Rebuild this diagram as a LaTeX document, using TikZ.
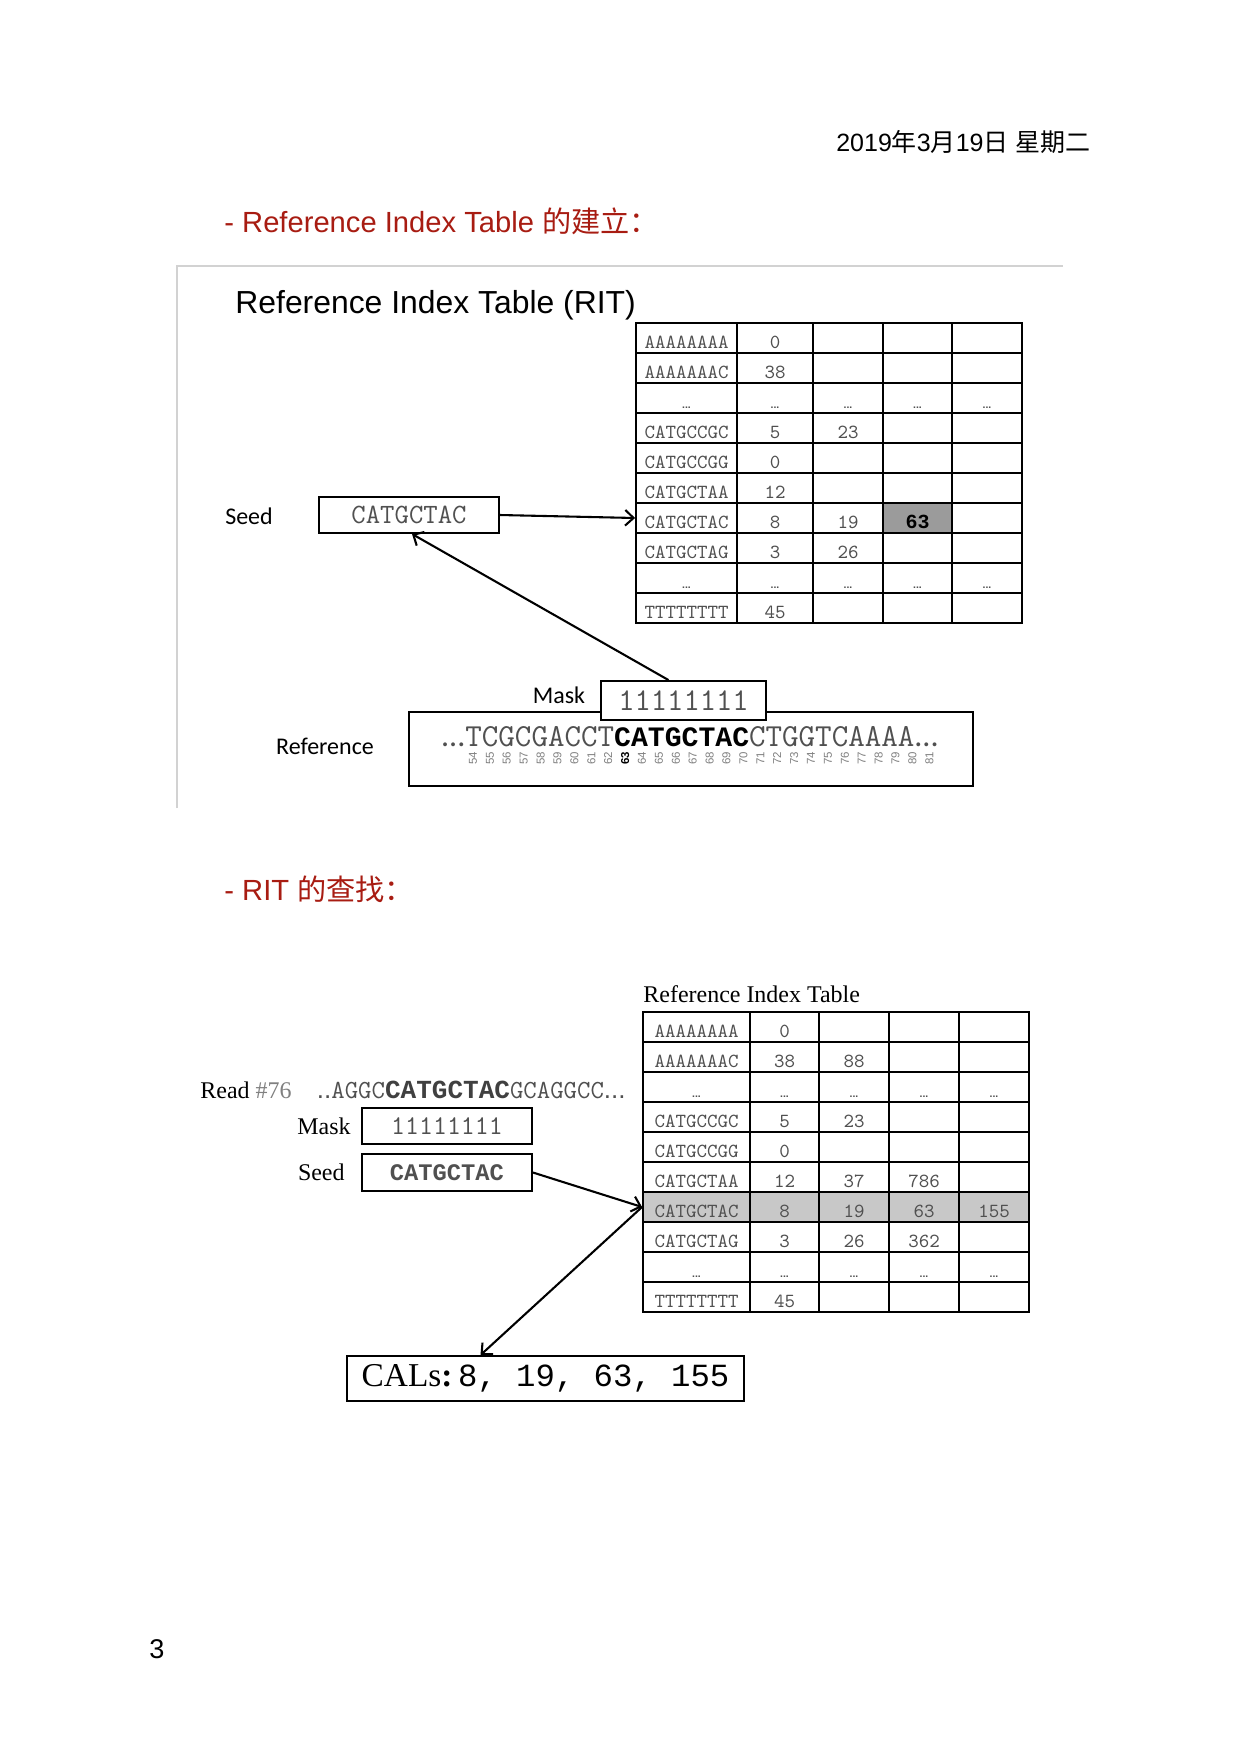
\documentclass[tikz,border=0pt]{standalone}
\usepackage{fontspec}
\setmainfont{Liberation Serif}
\setsansfont{Liberation Sans}
\newfontfamily\cjk{Noto Sans CJK SC}
\newfontfamily\calib{Carlito}
\newfontfamily\cmono{Liberation Mono}
\usetikzlibrary{calc,arrows.meta}

\definecolor{headred}{RGB}{168,28,18}
\definecolor{txtgray}{RGB}{80,80,80}
\definecolor{rowgray}{RGB}{200,200,200}
\definecolor{hitgray}{RGB}{155,155,155}
\definecolor{framegray}{RGB}{210,210,210}

\newcommand\pxu{0.48pt}
\newcommand\celldots{{\sffamily\bfseries\fontsize{5}{6}\selectfont...}}

\tikzset{
  cell/.style={draw, line width=0.9pt, inner sep=0pt, minimum height=30*\pxu,
    text height=9.6pt, text depth=0pt, text=txtgray,
    font=\ttfamily\fontsize{9.6}{10}\selectfont},
  box/.style={draw, line width=0.9pt, inner sep=0pt, fill=white},
  sans lbl/.style={font=\calib\fontsize{11.5}{13}\selectfont},
  serif lbl/.style={inner sep=0pt, font=\rmfamily\fontsize{11.5}{13}\selectfont},
  heading/.style={anchor=west, inner sep=0pt, text=headred, font=\sffamily\fontsize{14}{16}\selectfont},
  posnum/.style={rotate=90, inner sep=0pt, text=gray, font=\sffamily\fontsize{5.5}{6}\selectfont},
  link/.style={-{Straight Barb[length=4pt,width=7.5pt]}, line width=1pt},
}

\begin{document}
\begin{tikzpicture}[x=\pxu,y=-\pxu]
\path[fill=white, use as bounding box] (0,0) rectangle (1240,1753);

% page header
\node[anchor=east, inner sep=0pt, font=\sffamily\fontsize{12}{15}\selectfont] (date) at (1091,142)
  {2019{\cjk 年}3{\cjk 月}19{\cjk 日} {\cjk 星期二}};
\node[heading] (headA) at (224,221) {- Reference Index Table {\cjk 的建立：}};

% building the table
\draw[framegray, line width=0.7pt] (177,808) -- (177,266) -- (1063,266);
\node[anchor=west, inner sep=0pt, font=\sffamily\fontsize{15.3}{17}\selectfont] (titleA) at (235,305) {Reference Index Table (RIT)};
\fill[hitgray] (883,503) rectangle (952,533);
\foreach \ca/\cb/\cc/\cd/\ce [count=\i] in {
    AAAAAAAA/0/{}/{}/{},
    AAAAAAAC/38/{}/{}/{},
    \celldots/\celldots/\celldots/\celldots/\celldots,
    CATGCCGC/5/23/{}/{},
    CATGCCGG/0/{}/{}/{},
    CATGCTAA/12/{}/{}/{},
    CATGCTAC/8/19/{\cmono\bfseries\color{black}63}/{},
    CATGCTAG/3/26/{}/{},
    \celldots/\celldots/\celldots/\celldots/\celldots,
    TTTTTTTT/45/{}/{}/{}}{
  \foreach \t [count=\j] in {\ca,\cb,\cc,\cd,\ce}{
    \pgfmathsetmacro\xl{{636,737,813,883,952}[\j-1]}
    \pgfmathsetmacro\xr{{737,813,883,952,1022}[\j-1]}
    \node[cell, minimum width=(\xr-\xl)*\pxu] (ritA-\i-\j) at ({(\xl+\xr)/2},{308+30*\i}) {\t};
  }
}

\node[sans lbl] (seedlblA) at (249,516) {Seed};
\node[box, minimum width=180*\pxu, minimum height=36*\pxu, text=txtgray,
  font=\ttfamily\fontsize{13.4}{15}\selectfont] (seedA) at (409,515) {CATGCTAC};
\draw[link] (seedA.east) -- (ritA-7-1.west);

\node[box, minimum width=564*\pxu, minimum height=74*\pxu] (refA) at (691,749) {};
\node[sans lbl] (reflblA) at (325,746) {Reference};
\node[anchor=base west, inner sep=0pt, text=txtgray, font=\ttfamily\fontsize{15.4}{17}\selectfont] (seqA) at (465,746)
  {\llap{\calib...}TCGCGACCT{\color{black}\cmono\bfseries\fontsize{13.5}{17}\selectfont CATGCTAC}CTGGTCAAAA\rlap{\calib...}};
\foreach \n [count=\k from 0] in {54,...,81}
  \node[posnum] (posA\n) at (473+16.9*\k,758) {\ifnum\n=63 \bfseries\color{black}\fi\n};

\node[box, minimum width=165*\pxu, minimum height=39*\pxu, text=txtgray,
  font=\ttfamily\fontsize{15.2}{17}\selectfont] (maskA) at (683.5,700.5) {11111111};
\node[sans lbl] (masklblA) at (559,695) {Mask};
\draw[link] ($(maskA.north)+(-15,0)$) -- ($(seedA.south)+(3,0)$);

% looking up the table
\node[heading] (headB) at (224,889) {- RIT {\cjk 的查找：}};
\node[anchor=base west, serif lbl] (titleB) at (643,1002) {Reference Index Table};
\fill[rowgray] (643,1192) rectangle (1029,1222);
\foreach \ca/\cb/\cc/\cd/\ce [count=\i] in {
    AAAAAAAA/0/{}/{}/{},
    AAAAAAAC/38/88/{}/{},
    \celldots/\celldots/\celldots/\celldots/\celldots,
    CATGCCGC/5/23/{}/{},
    CATGCCGG/0/{}/{}/{},
    CATGCTAA/12/37/786/{},
    CATGCTAC/8/19/63/155,
    CATGCTAG/3/26/362/{},
    \celldots/\celldots/\celldots/\celldots/\celldots,
    TTTTTTTT/45/{}/{}/{}}{
  \foreach \t [count=\j] in {\ca,\cb,\cc,\cd,\ce}{
    \pgfmathsetmacro\xl{{643,750,819,889,959}[\j-1]}
    \pgfmathsetmacro\xr{{750,819,889,959,1029}[\j-1]}
    \node[cell, minimum width=(\xr-\xl)*\pxu] (ritB-\i-\j) at ({(\xl+\xr)/2},{997+30*\i}) {\t};
  }
}

\node[anchor=base west, serif lbl] (readlbl) at (200,1098) {Read {\color{gray}\#76}};
\node[anchor=base west, inner sep=0pt, text=txtgray, font=\ttfamily\fontsize{12.5}{15}\selectfont] (readseq) at (331,1098)
  {\llap{\sffamily..}AGGC{\color{black!75}\cmono\bfseries\fontsize{12.5}{15}\selectfont CATGCTAC}GCAGGCC\rlap{\sffamily...}};
\node[serif lbl, anchor=east] (masklblB) at (351,1126) {Mask};
\node[box, minimum width=170*\pxu, minimum height=36*\pxu, text=txtgray,
  font=\ttfamily\fontsize{13}{15}\selectfont] (maskB) at (447,1126) {11111111};
\node[serif lbl, anchor=east] (seedlblB) at (345,1172) {Seed};
\node[box, minimum width=170*\pxu, minimum height=37*\pxu, text=txtgray,
  font=\cmono\bfseries\fontsize{11.4}{15}\selectfont] (seedB) at (447,1172.5) {CATGCTAC};
\draw[link] (seedB.east) -- (ritB-7-1.west);

\node[box, minimum width=397*\pxu, minimum height=45*\pxu, font=\rmfamily\fontsize{16}{18}\selectfont] (calbox) at (545.5,1378.5)
  {CALs\textbf{:}\,{\cmono\fontsize{15.5}{18}\selectfont 8, 19, 63, 155}};
\draw[link] (ritB-7-1.west) -- ($(calbox.north)+(-65,0)$);

\node[font=\sffamily\fontsize{13}{15}\selectfont] (pageno) at (157,1649) {3};
\end{tikzpicture}
\end{document}
